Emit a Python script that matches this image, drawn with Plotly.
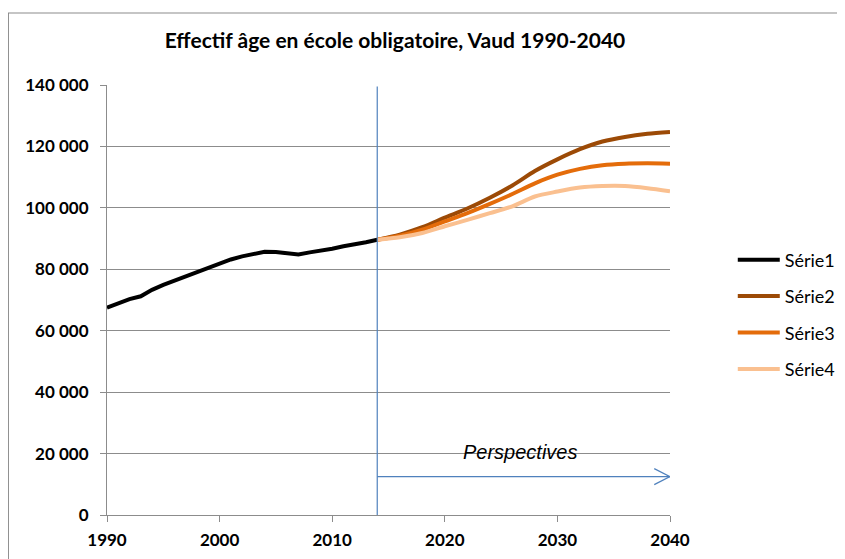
import plotly.graph_objects as go

# ---- data ----
years_hist = list(range(1990, 2015))
serie1 = [67500, 68800, 70300, 71200, 73300, 74900, 76300, 77600, 79200, 80700,
          82000, 83200, 84200, 85000, 85700, 85600, 85200, 84800, 85500, 86000,
          86700, 87500, 88000, 88800, 89600]

years_proj = [2014, 2016, 2018, 2020, 2022, 2024, 2026, 2028, 2030, 2032, 2034, 2036, 2038, 2040]
serie2 = [89600, 91300, 93700, 96800, 99800, 103300, 107300, 112000, 115800, 119100, 121600, 123100, 124100, 124700]
serie3 = [89600, 90900, 92900, 95600, 98300, 101300, 104500, 108000, 110800, 112700, 113900, 114400, 114500, 114400]
serie4 = [89600, 90400, 91800, 94000, 96100, 98300, 100500, 103700, 105300, 106600, 107100, 107100, 106400, 105400]

series_names = ["Série1", "Série2", "Série3", "Série4"]
colors = ["#000000", "#9C4A06", "#E46C0A", "#FAC090"]

x_ticks = [1990, 2000, 2010, 2020, 2030, 2040]
y_ticks = list(range(0, 140001, 20000))

forecast_start = 2014
arrow_value = 12500
label_text = "Perspectives"
label_x = 2026.7
label_value = 20500
title_text = "Effectif âge en école obligatoire, Vaud 1990-2040"

FONT = "Lato"
GRID = "#8C8C8C"
BLUE = "#4F81BD"

fig = go.Figure()
fig.add_trace(go.Scatter(x=years_hist, y=serie1, mode="lines", name=series_names[0],
                         line=dict(color=colors[0], width=4), legendgroup="a"))
for name, ys, col, g in zip(series_names[1:], [serie2, serie3, serie4], colors[1:], ["b", "c", "d"]):
    fig.add_trace(go.Scatter(x=years_proj, y=ys, mode="lines", name=name,
                             line=dict(color=col, width=4, shape="spline", smoothing=0.8),
                             legendgroup=g))

# vertical forecast line
fig.add_shape(type="line", xref="x", yref="y", x0=forecast_start, x1=forecast_start,
              y0=0, y1=139500, line=dict(color=BLUE, width=1.2))
# arrow
fig.add_shape(type="line", xref="x", yref="y", x0=forecast_start, x1=2040,
              y0=arrow_value, y1=arrow_value, line=dict(color=BLUE, width=1.2))
fig.add_shape(type="line", xref="x", yref="y", x0=2038.6, x1=2040,
              y0=arrow_value + 2600, y1=arrow_value, line=dict(color=BLUE, width=1.2))
fig.add_shape(type="line", xref="x", yref="y", x0=2038.6, x1=2040,
              y0=arrow_value - 2600, y1=arrow_value, line=dict(color=BLUE, width=1.2))

fig.add_annotation(x=label_x, y=label_value, xref="x", yref="y", text="<i>" + label_text + "</i>",
                   showarrow=False, font=dict(family="Liberation Sans", size=20, color="#000000"),
                   xanchor="center", yanchor="middle")

# page body has an 8px offset
OFF = 8
W, H = 845, 559
L, T = 107 - OFF, 85 - OFF
R = W - (672 - OFF)
B = H - (515 - OFF)
pw, ph = W - L - R, H - T - B
bx = (8 - OFF - L) / pw
by = (515 - 13) / ph
fig.add_shape(type="path", xref="paper", yref="paper",
              path=f"M {bx},-0.3 L {bx},{by} L 1.5,{by}",
              line=dict(color="#8C8C8C", width=1.2), layer="above")

fig.update_layout(
    width=W, height=H,
    margin=dict(l=L, r=R, t=T, b=B),
    paper_bgcolor="white", plot_bgcolor="white",
    title=dict(text="<b>" + title_text + "</b>", x=(395 - OFF) / W, xanchor="center",
               y=1 - (41 - OFF) / H, yanchor="middle",
               font=dict(family=FONT, size=21, color="#000000")),
    font=dict(family=FONT, size=14, color="#000000"),
    legend=dict(x=(735 - OFF - L) / pw, y=(515 - 314.5) / ph, xanchor="left", yanchor="middle",
                font=dict(family=FONT, size=18), tracegroupgap=10, itemwidth=42,
                bgcolor="rgba(0,0,0,0)"),
    xaxis=dict(range=[1990, 2040], tickvals=x_ticks,
               ticktext=["<b>%d</b>" % v for v in x_ticks],
               showgrid=False, zeroline=False, showline=True, linecolor=GRID, linewidth=1.2,
               ticks="outside", ticklen=6, tickcolor=GRID, ticklabelstandoff=3,
               tickfont=dict(size=17, family=FONT)),
    yaxis=dict(range=[0, 140000], tickvals=y_ticks,
               ticktext=["<b>" + (f"{v:,}".replace(",", " ")) + "</b>" for v in y_ticks],
               showgrid=True, gridcolor=GRID, gridwidth=1.2, zeroline=False,
               showline=True, linecolor=GRID, linewidth=1.2,
               ticks="outside", ticklen=6, tickcolor=GRID, ticklabelstandoff=8,
               tickfont=dict(size=17, family=FONT)),
)
fig.write_html("out.html")
